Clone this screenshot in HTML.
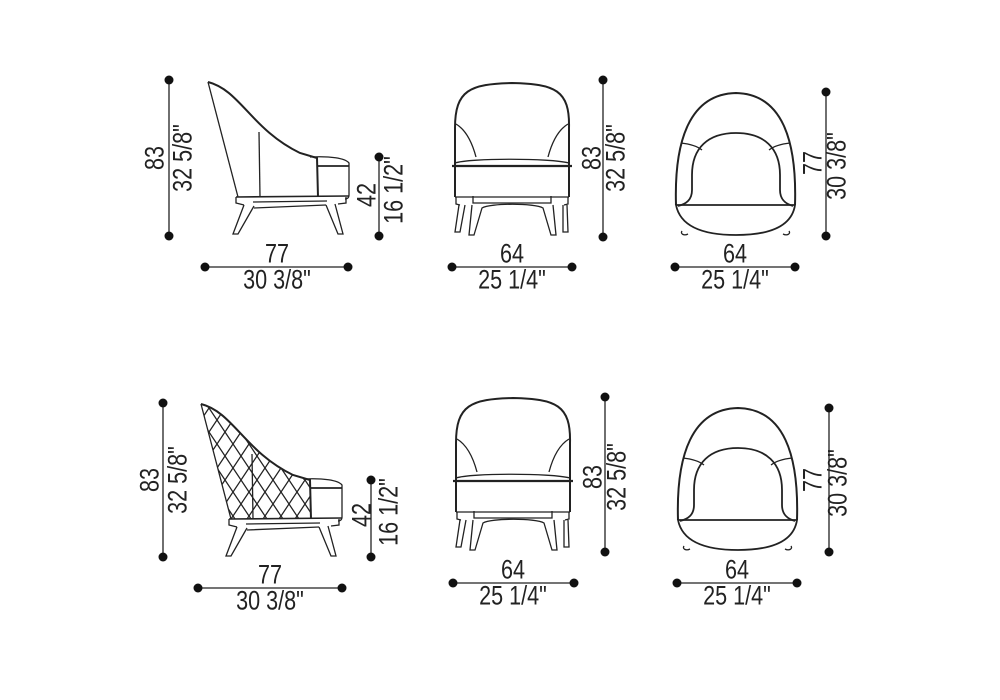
<!DOCTYPE html>
<html><head><meta charset="utf-8"><style>
html,body{margin:0;padding:0;background:#fff;width:1000px;height:700px;overflow:hidden}
svg text{font-family:"Liberation Sans",sans-serif;font-size:27px;fill:#222}
</style></head><body>
<svg width="1000" height="700" viewBox="0 0 1000 700" xmlns="http://www.w3.org/2000/svg">
<defs>
<pattern id="dia" width="16" height="24" patternUnits="userSpaceOnUse" patternTransform="translate(0,2)">
<path d="M0 0 L16 24 M16 0 L0 24" stroke="#222" stroke-width="1.3" fill="none"/>
</pattern>
<clipPath id="backclip"><path d="M208 82 C240 90 250 130 300 153 L317 158 L318 197 L238 197 Z"/></clipPath>
<g id="side" fill="none" stroke="#222" stroke-width="1.3">
<path d="M208 82 C240 90 252 130 300 153 L317 158 L318 197" stroke-width="2"/>
<path d="M208 82 L238 197"/>
<path d="M259 132 L260 197"/>
<path d="M310 157 C330 156 345 158 349 163 L349 195 C349 198 347 199 345 199"/>
<path d="M317 166 L349 166" stroke-width="1.8"/>
<path d="M236 197 L349 196" stroke-width="1.6"/>
<path d="M236 197 L236 203 L244 205 M346 197 L346 203 L338 204"/>
<path d="M253 202 L327 201 M254 208 L326 205"/>
<path d="M244 205 L233 234 L238 234 L254 206 M326 205 L338 234 L343 234 L335 204"/>
</g>
<g id="front" fill="none" stroke="#222" stroke-width="1.3">
<path d="M455 197 L455 128 C455 90 470 84 512 83 C555 84 570 90 569 128 L569 197" stroke-width="2"/>
<path d="M456 124 C466 130 472 142 476 157 M568 124 C558 130 552 142 548 157"/>
<path d="M455 163 C470 158 550 158 569 163"/>
<path d="M452 166 L572 166" stroke-width="2.2"/>
<path d="M455 197 L569 197"/>
<path d="M456 197 L456 204 L460 205 M568 197 L568 204 L564 205"/>
<path d="M473 196 L473 203 L551 203 L551 196"/>
<path d="M459 205 L455 232 L460 232 L465 205 M472 205 L469 235 L474 235 L482 208 C490 203 535 203 543 208 L551 235 L556 235 L553 205 M563 205 L563 232 L568 232 L567 205"/>
</g>
<g id="top" fill="none" stroke="#222" stroke-width="1.3">
<path d="M676 205 C674 140 690 94 736 93 C782 94 797 140 795 205" stroke-width="2"/>
<path d="M676 205 C680 225 700 235 736 235 C772 235 792 225 795 205 Z" stroke-width="1.8"/>
<path d="M678 206 C686 204 692 200 692 190 L692 175 C692 148 708 133 736 133 C764 133 780 148 780 175 L780 190 C780 200 786 204 793 206" stroke-width="1.8"/>
<path d="M681 143 C690 144 697 146 702 150 M790 143 C781 144 774 146 769 150"/>
<path d="M682 231 C680 234 684 236 688 234 M789 231 C791 234 787 236 783 234"/>
</g>
<g id="dot"><circle r="4.5" fill="#111"/></g>
</defs>

<use href="#side"/>
<use href="#front"/>
<use href="#top"/>

<g transform="translate(-7,322)">
<rect x="200" y="80" width="130" height="120" fill="url(#dia)" clip-path="url(#backclip)"/>
<use href="#side"/>
</g>
<use href="#front" transform="translate(1,315)"/>
<use href="#top" transform="translate(2,315)"/>

<g stroke="#222" stroke-width="1.3">
<line x1="169" y1="80" x2="169" y2="236"/>
<line x1="379" y1="157" x2="379" y2="236"/>
<line x1="205" y1="267" x2="348" y2="267"/>
<line x1="603" y1="80" x2="603" y2="237"/>
<line x1="452" y1="267" x2="572" y2="267"/>
<line x1="826" y1="92" x2="826" y2="236"/>
<line x1="675" y1="267" x2="795" y2="267"/>
<line x1="163" y1="403" x2="163" y2="557"/>
<line x1="371" y1="480" x2="371" y2="557"/>
<line x1="198" y1="588" x2="342" y2="588"/>
<line x1="605" y1="397" x2="605" y2="552"/>
<line x1="453" y1="583" x2="574" y2="583"/>
<line x1="829" y1="408" x2="829" y2="552"/>
<line x1="677" y1="583" x2="797" y2="583"/>
</g>
<g>
<use href="#dot" x="169" y="80"/><use href="#dot" x="169" y="236"/>
<use href="#dot" x="379" y="157"/><use href="#dot" x="379" y="236"/>
<use href="#dot" x="205" y="267"/><use href="#dot" x="348" y="267"/>
<use href="#dot" x="603" y="80"/><use href="#dot" x="603" y="237"/>
<use href="#dot" x="452" y="267"/><use href="#dot" x="572" y="267"/>
<use href="#dot" x="826" y="92"/><use href="#dot" x="826" y="236"/>
<use href="#dot" x="675" y="267"/><use href="#dot" x="795" y="267"/>
<use href="#dot" x="163" y="403"/><use href="#dot" x="163" y="557"/>
<use href="#dot" x="371" y="480"/><use href="#dot" x="371" y="557"/>
<use href="#dot" x="198" y="588"/><use href="#dot" x="342" y="588"/>
<use href="#dot" x="605" y="397"/><use href="#dot" x="605" y="552"/>
<use href="#dot" x="453" y="583"/><use href="#dot" x="574" y="583"/>
<use href="#dot" x="829" y="408"/><use href="#dot" x="829" y="552"/>
<use href="#dot" x="677" y="583"/><use href="#dot" x="797" y="583"/>
</g>

<g text-anchor="middle" dominant-baseline="central">
<text transform="translate(155,158) rotate(-90) scale(0.8,1)">83</text>
<text transform="translate(183,158) rotate(-90) scale(0.8,1)">32 5/8"</text>
<text transform="translate(367,195) rotate(-90) scale(0.8,1)">42</text>
<text transform="translate(394,190) rotate(-90) scale(0.8,1)">16 1/2"</text>
<text transform="translate(277,254) scale(0.8,1)">77</text>
<text transform="translate(277,280) scale(0.8,1)">30 3/8"</text>
<text transform="translate(592,158) rotate(-90) scale(0.8,1)">83</text>
<text transform="translate(616,158) rotate(-90) scale(0.8,1)">32 5/8"</text>
<text transform="translate(512,254) scale(0.8,1)">64</text>
<text transform="translate(512,280) scale(0.8,1)">25 1/4"</text>
<text transform="translate(813,163) rotate(-90) scale(0.8,1)">77</text>
<text transform="translate(837,166) rotate(-90) scale(0.8,1)">30 3/8"</text>
<text transform="translate(735,254) scale(0.8,1)">64</text>
<text transform="translate(735,280) scale(0.8,1)">25 1/4"</text>

<text transform="translate(150,480) rotate(-90) scale(0.8,1)">83</text>
<text transform="translate(178,480) rotate(-90) scale(0.8,1)">32 5/8"</text>
<text transform="translate(362,515) rotate(-90) scale(0.8,1)">42</text>
<text transform="translate(389,512) rotate(-90) scale(0.8,1)">16 1/2"</text>
<text transform="translate(270,575) scale(0.8,1)">77</text>
<text transform="translate(270,601) scale(0.8,1)">30 3/8"</text>
<text transform="translate(593,477) rotate(-90) scale(0.8,1)">83</text>
<text transform="translate(617,477) rotate(-90) scale(0.8,1)">32 5/8"</text>
<text transform="translate(513,570) scale(0.8,1)">64</text>
<text transform="translate(513,596) scale(0.8,1)">25 1/4"</text>
<text transform="translate(813,480) rotate(-90) scale(0.8,1)">77</text>
<text transform="translate(838,483) rotate(-90) scale(0.8,1)">30 3/8"</text>
<text transform="translate(737,570) scale(0.8,1)">64</text>
<text transform="translate(737,596) scale(0.8,1)">25 1/4"</text>
</g>
</svg>
</body></html>
